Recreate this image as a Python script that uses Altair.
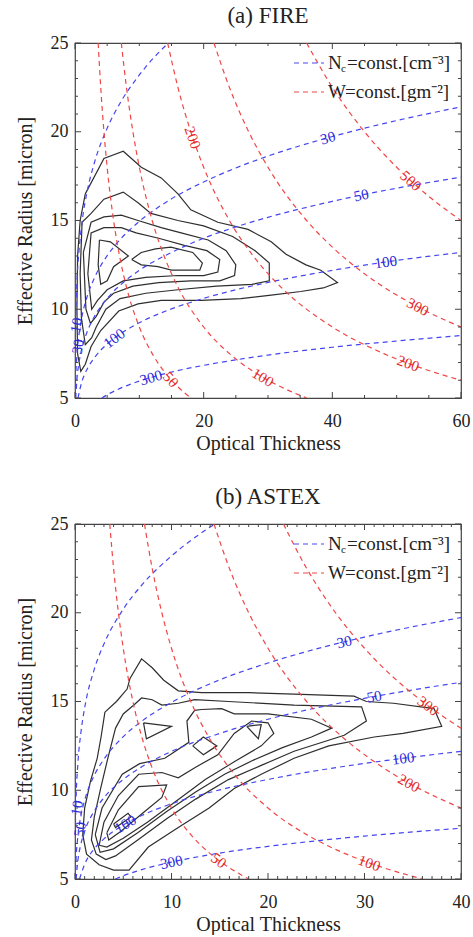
import altair as alt
import pandas as pd

FONT = "Liberation Serif"
PW, PH = 386, 355
BLUE_LINE = "#4646f0"
RED_LINE = "#f04646"
BLUE_TXT = "#2a2ad8"
RED_TXT = "#e02a2a"
INK = "#222222"

# ---------------- reference curves: N_c = const (tau, re) ----------------
N10_TAU = [0.005, 0.01, 0.03, 0.1, 0.3, 0.6, 1, 2, 3, 5, 7, 10, 14.5, 16]
N10_RE = [5.07, 5.83, 7.26, 9.24, 11.51, 13.20, 14.64, 16.82, 18.24, 20.20, 21.61, 23.20, 25.0, 25.5]
N30_TAU = [0.042, 0.1, 0.3, 0.6, 1, 2, 3, 5, 7, 10, 15, 20, 25, 30, 40, 50, 60]
N30_RE = [5.0, 5.95, 7.42, 8.52, 9.43, 10.84, 11.75, 13.02, 13.92, 14.95, 16.22, 17.17, 17.96, 18.63, 19.73, 20.63, 21.40]
N50_TAU = [0.116, 0.3, 0.6, 1, 2, 3, 5, 7, 10, 15, 20, 25, 30, 40, 50, 60]
N50_RE = [5.0, 6.05, 6.94, 7.69, 8.83, 9.58, 10.61, 11.35, 12.19, 13.20, 14.00, 14.64, 15.18, 16.08, 16.82, 17.44]
N100_TAU = [0.465, 1, 2, 3, 5, 7, 10, 15, 20, 25, 30, 40, 50, 60]
N100_RE = [5.0, 5.83, 6.70, 7.26, 8.04, 8.60, 9.24, 10.02, 10.61, 11.10, 11.51, 12.19, 12.75, 13.20]
N300_TAU = [4.18, 5, 7, 10, 15, 20, 25, 30, 40, 50, 60]
N300_RE = [5.0, 5.18, 5.54, 5.95, 6.46, 6.84, 7.15, 7.42, 7.86, 8.21, 8.52]

# ---------------- reference curves: W = const ----------------
W50_TAU = [3.6, 4, 4.5, 5, 6, 7, 8, 10, 12, 14, 16, 18]
W50_RE = [25, 22.5, 20, 18, 15, 12.86, 11.25, 9, 7.5, 6.43, 5.63, 5]
W100_TAU = [7.2, 8, 9, 10, 12, 14, 16, 20, 24, 28, 32, 36]
W100_RE = [25, 22.5, 20, 18, 15, 12.86, 11.25, 9, 7.5, 6.43, 5.63, 5]
W200_TAU = [14.4, 16, 18, 20, 24, 28, 32, 40, 48, 56, 60]
W200_RE = [25, 22.5, 20, 18, 15, 12.86, 11.25, 9, 7.5, 6.43, 6.0]
W300_TAU = [21.6, 24, 27, 30, 36, 40, 45, 54, 60]
W300_RE = [25, 22.5, 20, 18, 15, 13.5, 12, 10, 9]
W500_TAU = [36, 40, 45, 50, 55, 60]
W500_RE = [25, 22.5, 20, 18, 16.36, 15]

# ---------------- (a) FIRE frequency contours ----------------
A_C1 = [(1.6, 16.5), (4.5, 18.5), (7.5, 18.9), (10.3, 18.0), (13.4, 17.4), (16.0, 16.5), (18.0, 15.6),
        (22.2, 14.9), (26.9, 14.5), (30.5, 13.8), (32.8, 13.1), (35.9, 12.5), (38.2, 12.2), (40.8, 11.5),
        (38.6, 11.2), (35.1, 11.0), (30.5, 10.8), (25.8, 10.6), (19.6, 10.5), (13.4, 10.5), (9.8, 10.3),
        (6.8, 9.9), (4.0, 8.8), (2.5, 7.9), (1.6, 6.9), (0.9, 6.5), (0.4, 7.5), (0.3, 10.0), (0.4, 13.0),
        (0.8, 15.0), (1.6, 16.5)]
A_C2 = [(1.1, 14.9), (2.5, 15.4), (4.5, 16.2), (7.5, 16.6), (9.8, 16.0), (11.8, 15.4), (16.0, 15.0),
        (20.0, 14.7), (24.5, 14.1), (28.0, 13.3), (30.2, 12.6), (30.2, 11.6), (27.5, 11.4), (22.0, 11.3),
        (16.0, 11.1), (11.0, 10.9), (7.0, 10.6), (4.8, 10.0), (3.3, 9.0), (2.6, 8.4), (1.6, 8.0),
        (1.0, 9.5), (0.8, 12.0), (1.1, 14.9)]
A_C3 = [(1.3, 13.2), (2.5, 14.9), (4.5, 15.2), (7.2, 15.3), (9.8, 15.0), (13.4, 14.6), (16.5, 14.3),
        (20.7, 13.9), (23.5, 13.3), (25.0, 12.5), (24.8, 11.9), (22.5, 11.6), (18.0, 11.6), (13.0, 11.5),
        (9.0, 11.3), (6.0, 10.9), (4.5, 10.4), (3.3, 9.6), (2.4, 9.2), (1.7, 10.0), (1.3, 13.2)]
A_C4 = [(2.0, 12.0), (2.5, 14.3), (4.5, 14.6), (7.2, 14.6), (9.5, 14.3), (13.0, 14.0), (17.0, 13.6),
        (20.5, 13.3), (22.5, 12.8), (22.2, 12.1), (20.0, 11.9), (16.0, 11.9), (11.0, 11.8), (7.5, 11.6),
        (5.0, 11.1), (3.5, 10.5), (2.6, 10.0), (2.0, 12.0)]
A_C5 = [(3.8, 13.9), (5.5, 13.8), (8.3, 13.0), (6.0, 12.4), (5.0, 11.6), (4.0, 11.4), (3.6, 12.5), (3.8, 13.9)]
A_C6 = [(8.8, 12.8), (10.3, 13.2), (12.5, 13.4), (14.9, 13.5), (18.3, 13.2), (19.8, 12.6), (19.4, 12.2),
        (15.0, 12.2), (12.9, 12.4), (10.3, 12.5), (8.8, 12.8)]

# ---------------- (b) ASTEX frequency contours ----------------
B_C1 = [(3.1, 14.4), (4.3, 15.0), (5.4, 15.7), (5.7, 16.3), (6.9, 17.4), (8.0, 16.9), (9.2, 16.2),
        (10.7, 15.6), (13.1, 15.5), (18.0, 15.5), (23.5, 15.4), (28.9, 15.3), (30.2, 15.0), (33.0, 14.9),
        (37.2, 14.6), (38.0, 13.6), (34.0, 13.2), (31.0, 13.0), (26.3, 12.5), (22.7, 11.8), (19.3, 10.9),
        (16.5, 10.1), (13.9, 9.0), (10.7, 7.9), (7.6, 6.8), (5.6, 5.5), (4.0, 5.5), (2.5, 5.8), (1.2, 6.4),
        (0.8, 7.5), (1.0, 9.0), (1.6, 10.5), (2.3, 11.8), (2.7, 13.0), (3.1, 14.4)]
B_C2 = [(4.2, 13.5), (5.0, 14.3), (6.1, 14.8), (6.9, 15.2), (8.0, 15.1), (9.0, 14.8), (10.7, 14.9),
        (12.4, 15.1), (15.9, 15.0), (22.7, 14.8), (29.7, 14.7), (30.2, 13.9), (27.9, 13.1), (22.7, 12.2),
        (19.3, 11.4), (15.9, 10.6), (12.5, 9.5), (9.5, 8.4), (6.5, 7.2), (4.2, 6.3), (3.2, 6.1), (2.2, 6.4),
        (1.7, 7.2), (2.0, 8.5), (2.7, 10.2), (3.4, 11.8), (4.2, 13.5)]
B_C3 = [(2.1, 7.5), (2.8, 9.0), (4.9, 10.9), (6.7, 11.5), (9.3, 11.8), (11.8, 12.7), (11.6, 13.9),
        (12.4, 14.5), (13.1, 14.55), (15.2, 14.6), (16.5, 14.3), (20.0, 14.3), (24.5, 14.0), (26.6, 13.5),
        (24.5, 13.0), (21.5, 12.4), (18.5, 11.7), (15.5, 10.9), (12.5, 9.9), (9.5, 8.8), (6.5, 7.6),
        (4.0, 6.7), (2.6, 6.5), (2.1, 7.5)]
B_C4 = [(7.1, 13.8), (10.0, 13.6), (7.4, 12.9), (7.1, 13.8)]
B_C5 = [(2.5, 6.9), (3.0, 8.2), (4.5, 9.7), (6.6, 10.9), (9.0, 11.0), (10.7, 10.7), (12.5, 11.3),
        (14.8, 12.0), (16.5, 13.2), (18.3, 13.9), (20.0, 13.8), (20.6, 13.2), (19.3, 12.5), (16.5, 11.6),
        (13.5, 10.6), (10.5, 9.4), (7.5, 8.2), (5.0, 7.3), (3.3, 6.8), (2.5, 6.9)]
B_C6 = [(12.2, 12.5), (13.3, 13.0), (14.7, 12.5), (13.3, 12.0), (12.2, 12.5)]
B_C7 = [(3.3, 7.6), (4.5, 8.9), (6.6, 10.2), (9.5, 10.3), (9.0, 9.6), (7.0, 8.7), (4.8, 7.7), (3.5, 7.2), (3.3, 7.6)]
B_C8 = [(17.8, 13.6), (19.3, 13.7), (19.0, 12.9), (17.8, 13.6)]
B_C9 = [(4.0, 8.1), (5.5, 8.7), (5.8, 8.5), (4.2, 7.9), (4.0, 8.1)]

# ---------------- curve labels (text, tau, re, angle) ----------------
A_N_LABELS = [("30", 39.3, 19.66, 344), ("50", 44.5, 16.43, 348), ("100", 48.3, 12.66, 352),
              ("100", 6.1, 8.37, 323), ("300", 11.8, 6.15, 344), ("10", 0.2, 9.1, 280), ("30", 0.45, 7.9, 280)]
A_W_LABELS = [("200", 18.3, 19.67, 71), ("500", 52.2, 17.24, 42), ("300", 53.3, 10.13, 28),
              ("200", 51.8, 6.95, 20), ("100", 29.2, 6.16, 31), ("50", 14.9, 6.04, 48)]
B_N_LABELS = [("30", 27.9, 18.36, 346), ("50", 31.0, 15.28, 350), ("100", 34.0, 11.80, 353),
              ("100", 5.2, 8.10, 330), ("300", 10.0, 5.95, 348), ("10", 0.2, 9.0, 280), ("50", 0.5, 7.8, 280)]
B_W_LABELS = [("300", 36.6, 14.75, 36), ("200", 34.6, 10.40, 29), ("100", 30.5, 5.90, 20), ("50", 14.9, 6.04, 37)]

# ---------------- axes ----------------
Y_LABELS = [5, 10, 15, 20, 25]
Y_MINOR = [6, 7, 8, 9, 11, 12, 13, 14, 16, 17, 18, 19, 21, 22, 23, 24]
A_X_LABELS = [0, 20, 40, 60]
A_X_MINOR = [5, 10, 15, 25, 30, 35, 45, 50, 55]
B_X_LABELS = [0, 10, 20, 30, 40]
B_X_MINOR = [1, 2, 3, 4, 5, 6, 7, 8, 9, 11, 12, 13, 14, 15, 16, 17, 18, 19,
             21, 22, 23, 24, 25, 26, 27, 28, 29, 31, 32, 33, 34, 35, 36, 37, 38, 39]


def lines_df(named):
    rows = []
    for name, taus, res in named:
        for i, (t, r) in enumerate(zip(taus, res)):
            rows.append({"id": name, "i": i, "tau": t, "re": r})
    return pd.DataFrame(rows)


def contour_df(named):
    return lines_df([(n, [p[0] for p in pts], [p[1] for p in pts]) for n, pts in named])


def labels_df(labels):
    return pd.DataFrame([{"lab": l, "tau": t, "re": r, "ang": a} for l, t, r, a in labels])


def panel(title, xmax, x_labels, x_minor, contours, nlines, wlines, nlab, wlab):
    xs = alt.Scale(domain=[0, xmax], nice=False, zero=False)
    ys = alt.Scale(domain=[5, 25], nice=False, zero=False)
    common = dict(ticks=False, tickSize=0, domain=False, grid=False, labelFlush=False,
                  labelFont=FONT, labelFontSize=18, labelColor=INK,
                  titleFont=FONT, titleFontSize=20, titleFontWeight="normal", titleColor=INK)
    xax = alt.Axis(values=x_labels, title="Optical Thickness", labelPadding=14, titlePadding=3, format="d", **common)
    yax = alt.Axis(values=Y_LABELS, title="Effective Radius [micron]", labelPadding=7, titlePadding=15, format="d", **common)

    def X():
        return alt.X("tau:Q", scale=xs, axis=xax)

    def Y():
        return alt.Y("re:Q", scale=ys, axis=yax)

    layers = []
    layers.append(alt.Chart(contour_df(contours)).mark_line(color="#2e2e2e", strokeWidth=1.2, clip=True)
                  .encode(x=X(), y=Y(), detail="id:N", order="i:Q"))
    layers.append(alt.Chart(lines_df(nlines)).mark_line(color=BLUE_LINE, strokeWidth=1.2, strokeDash=[5, 4],
                                                        interpolate="monotone", clip=True)
                  .encode(x=X(), y=Y(), detail="id:N", order="i:Q"))
    layers.append(alt.Chart(lines_df(wlines)).mark_line(color=RED_LINE, strokeWidth=1.2, strokeDash=[5, 4],
                                                        interpolate="monotone", clip=True)
                  .encode(x=X(), y=Y(), detail="id:N", order="i:Q"))
    layers.append(alt.Chart(labels_df(nlab)).mark_text(font=FONT, fontSize=15, color=BLUE_TXT, clip=False)
                  .encode(x=X(), y=Y(), text="lab:N", angle=alt.Angle("ang:Q", scale=None)))
    layers.append(alt.Chart(labels_df(wlab)).mark_text(font=FONT, fontSize=15, color=RED_TXT)
                  .encode(x=X(), y=Y(), text="lab:N", angle=alt.Angle("ang:Q", scale=None)))

    # inward ticks on all four sides
    xmaj = pd.DataFrame({"tau": x_labels})
    xmin = pd.DataFrame({"tau": x_minor})
    ymaj = pd.DataFrame({"re": Y_LABELS})
    ymin = pd.DataFrame({"re": Y_MINOR})
    tick = dict(color="#444444", strokeWidth=1)
    for df, ln in ((xmaj, 6), (xmin, 3)):
        layers.append(alt.Chart(df).mark_rule(**tick).encode(x=X(), y=alt.value(PH), y2=alt.value(PH - ln)))
        layers.append(alt.Chart(df).mark_rule(**tick).encode(x=X(), y=alt.value(0), y2=alt.value(ln)))
    for df, ln in ((ymaj, 6), (ymin, 3)):
        layers.append(alt.Chart(df).mark_rule(**tick).encode(y=Y(), x=alt.value(0), x2=alt.value(ln)))
        layers.append(alt.Chart(df).mark_rule(**tick).encode(y=Y(), x=alt.value(PW), x2=alt.value(PW - ln)))

    # legend
    one = pd.DataFrame({"k": [0]})
    for yy, col, sym, rest in ((20, BLUE_LINE, "N", "=const.[cm\u207b\u00b3]"), (49, RED_LINE, "W", "=const.[gm\u207b\u00b2]")):
        layers.append(alt.Chart(one).mark_rule(color=col, strokeWidth=1.2, strokeDash=[5, 4])
                      .encode(x=alt.value(219), x2=alt.value(249), y=alt.value(yy)))
        layers.append(alt.Chart(one).mark_text(text=sym, align="left", baseline="middle", font=FONT,
                                               fontSize=19, color=INK)
                      .encode(x=alt.value(253), y=alt.value(yy)))
        x_rest = 270
        if sym == "N":
            layers.append(alt.Chart(one).mark_text(text="c", align="left", baseline="middle", font=FONT,
                                                   fontSize=11, color=INK)
                          .encode(x=alt.value(266), y=alt.value(yy + 6)))
            x_rest = 272
        layers.append(alt.Chart(one).mark_text(text=rest, align="left", baseline="middle", font=FONT,
                                               fontSize=19, color=INK)
                      .encode(x=alt.value(x_rest), y=alt.value(yy)))

    return alt.layer(*layers).properties(
        width=PW, height=PH,
        title=alt.TitleParams(title, font=FONT, fontSize=23, fontWeight="normal", offset=6, color=INK))


a_n = [("n10", N10_TAU, N10_RE), ("n30", N30_TAU, N30_RE), ("n50", N50_TAU, N50_RE),
       ("n100", N100_TAU, N100_RE), ("n300", N300_TAU, N300_RE)]
a_w = [("w50", W50_TAU, W50_RE), ("w100", W100_TAU, W100_RE), ("w200", W200_TAU, W200_RE),
       ("w300", W300_TAU, W300_RE), ("w500", W500_TAU, W500_RE)]
b_w = [("w50", W50_TAU, W50_RE), ("w100", W100_TAU, W100_RE), ("w200", W200_TAU, W200_RE),
       ("w300", W300_TAU, W300_RE)]

pa = panel("(a) FIRE", 60, A_X_LABELS, A_X_MINOR,
           [("c1", A_C1), ("c2", A_C2), ("c3", A_C3), ("c4", A_C4), ("c5", A_C5), ("c6", A_C6)],
           a_n, a_w, A_N_LABELS, A_W_LABELS)
pb = panel("(b) ASTEX", 40, B_X_LABELS, B_X_MINOR,
           [("c1", B_C1), ("c2", B_C2), ("c3", B_C3), ("c4", B_C4), ("c5", B_C5), ("c6", B_C6),
            ("c7", B_C7), ("c8", B_C8), ("c9", B_C9)],
           a_n, b_w, B_N_LABELS, B_W_LABELS)

chart = (alt.vconcat(pa, pb, spacing=31)
         .properties(padding={"left": 14, "top": 4, "right": 0, "bottom": 0}, background="white")
         .configure_view(stroke="#444444", strokeWidth=1.2)
         .configure_title(anchor="middle"))

chart.save("out.html", embed_options={"renderer": "svg", "actions": False})
